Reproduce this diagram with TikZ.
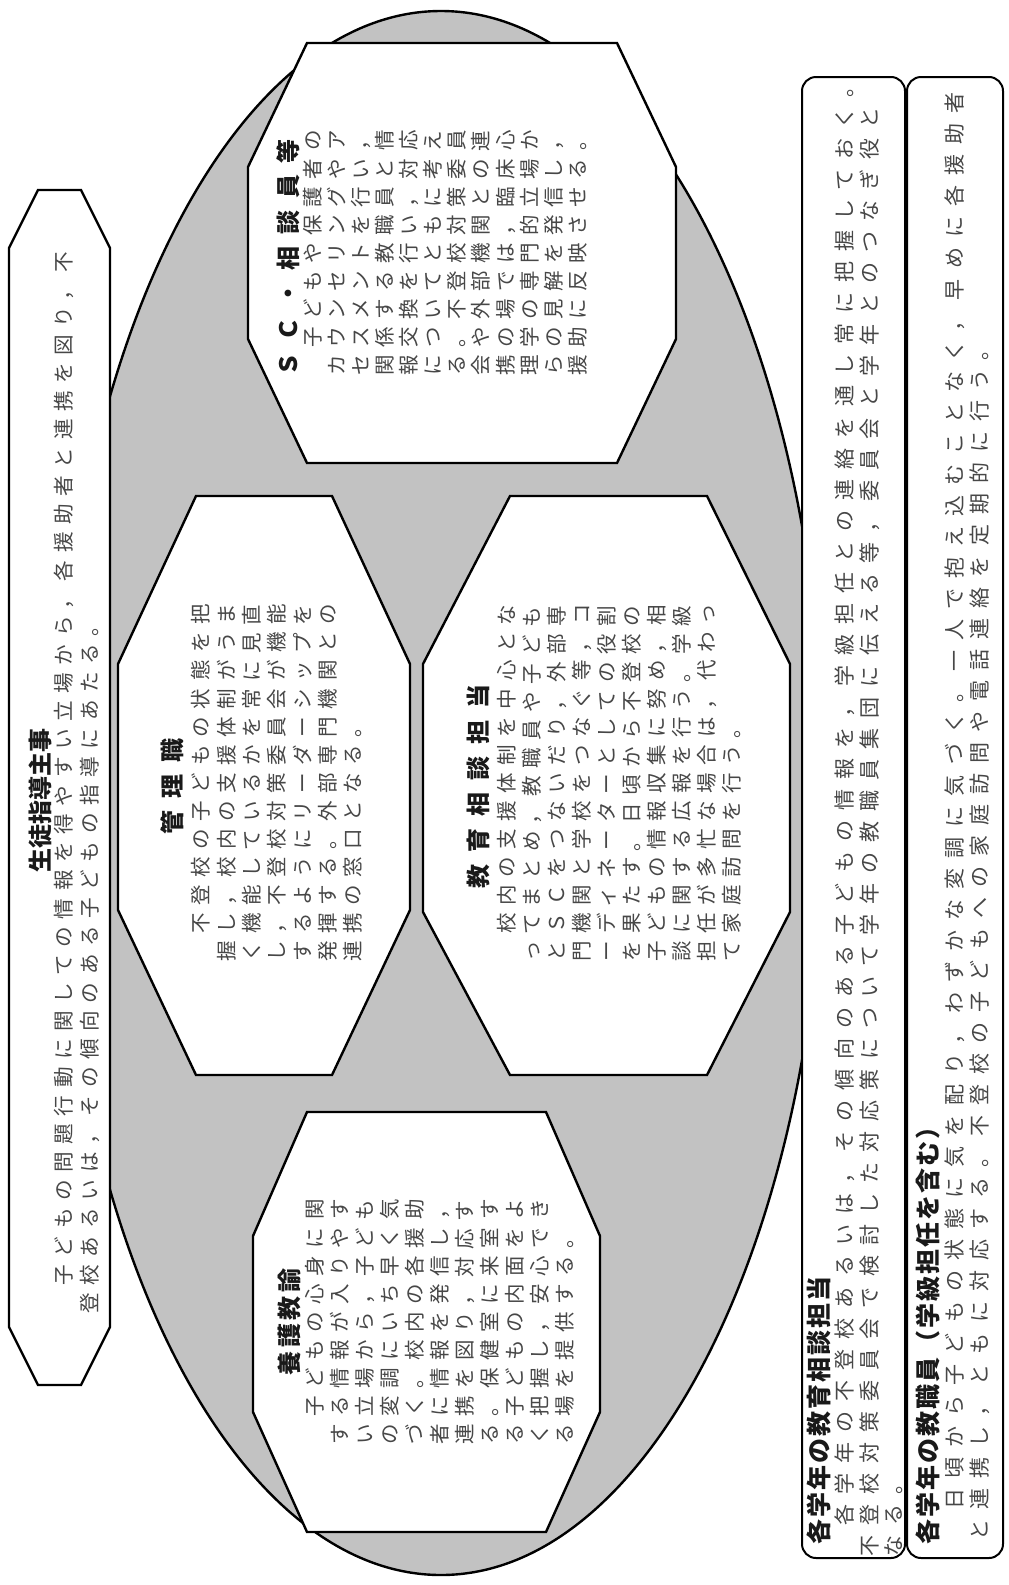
\documentclass[tikz,border=0pt]{standalone}
\usepackage{fontspec}
\newfontfamily\jpbody{Noto Sans CJK JP}[LetterSpace=37]
\newfontfamily\jpwide{Noto Sans CJK JP}[LetterSpace=48]
\newfontfamily\jptitle{Noto Sans CJK JP}
\definecolor{ellgray}{gray}{0.76}
\tikzset{
  frame/.style={draw=black, line width=2.4pt, fill=white, line join=miter},
  rbox/.style={draw=black, line width=2pt, fill=white, rounded corners=14pt},
  body/.style={rotate=90, align=left, inner sep=0pt, text=black!72},
  ttl/.style={rotate=90, inner sep=0pt, text=black!90},
  octttl/.style={ttl, font=\jptitle\bfseries\fontsize{24}{28}\selectfont\addfontfeature{LetterSpace=50}},
}
\begin{document}
\begin{tikzpicture}[x=1pt,y=-1pt]
\useasboundingbox (0,0) rectangle (1009,1585);
\fill[white] (0,0) rectangle (1009,1585);
% big ellipse
\draw[line width=2.4pt, fill=ellgray] (441,793) ellipse [x radius=384pt, y radius=782pt];
% left box
\draw[frame] (38,190) -- (81,190) -- (110,248) -- (110,1327) -- (81,1385) -- (38,1385) -- (9,1327) -- (9,248) -- cycle;
% octagons
\draw[frame] (307,43) -- (617,43) -- (676,167) -- (676,339) -- (617,463) -- (307,463) -- (248,339) -- (248,167) -- cycle;
\draw[frame] (196,496) -- (332,496) -- (410,664) -- (410,910) -- (332,1075) -- (196,1075) -- (118,910) -- (118,664) -- cycle;
\draw[frame] (510,496) -- (707,496) -- (790,664) -- (790,912) -- (707,1075) -- (510,1075) -- (423,912) -- (423,664) -- cycle;
\draw[frame] (307,1112) -- (546,1112) -- (600,1236) -- (600,1412) -- (546,1532) -- (307,1532) -- (253,1412) -- (253,1236) -- cycle;
% right boxes
\draw[rbox] (802,77) rectangle (905,1558);
\draw[rbox] (907,77) rectangle (1003,1558);

% texts: left box
\node[ttl, font=\jptitle\bfseries\fontsize{24}{28}\selectfont] (t1) at (40,800) {生徒指導主事};
\node[body, font=\jpbody\fontsize{20.6}{26}\selectfont] (b1) at (77,782.5)
 {　子どもの問題行動に関しての情報を得やすい立場から，各援助者と連携を図り，不\\
  登校あるいは，その傾向のある子どもの指導にあたる。};

% SC
\node[ttl, font=\jptitle\bfseries\fontsize{24}{28}\selectfont\addfontfeature{LetterSpace=48}] (t2) at (288,258) {ＳＣ・相談員等};
\node[body, font=\jpbody\fontsize{20.5}{24.1}\selectfont] (b2) at (445,253)
 {　子どもや保護者の\\
  カウンセリングやア\\
  セスメントを行い，\\
  関係する教職員と情\\
  報交換を行い，対応\\
  についてともに考え\\
  る。不登校対策委員\\
  会や外部機関との連\\
  携の場では，臨床心\\
  理学の専門的立場か\\
  らの見解を発信し，\\
  援助に反映させる。};

% kanrishoku
\node[octttl] (t3) at (172,786) {管理職};
\node[body, font=\jpbody\fontsize{20.5}{25.3}\selectfont] (b3) at (277,783)
 {　不登校の子どもの状態を把\\
  握し，校内の支援体制がうま\\
  く機能しているかを常に見直\\
  し，不登校対策委員会が機能\\
  するようにリーダーシップを\\
  発揮する。外部専門機関との\\
  連携の窓口となる。};

% kyouiku soudan
\node[octttl] (t4) at (478,786) {教育相談担当};
\node[body, font=\jpbody\fontsize{20.5}{25}\selectfont] (b4) at (619,783)
 {　校内の支援体制を中心とな\\
  ってまとめ，教職員や子ども\\
  とＳＣをつないだり，外部専\\
  門機関と学校をつなぐ等，コ\\
  ーディネーターとしての役割\\
  を果たす。日頃から不登校の\\
  子どもの情報収集に努め，相\\
  談に関する広報を行う。学級\\
  担任が多忙な場合は，代わっ\\
  て家庭訪問を行う。};

% yougo
\node[ttl, font=\jptitle\bfseries\fontsize{24}{28}\selectfont\addfontfeature{LetterSpace=15}] (t5) at (289,1322) {養護教諭};
\node[body, font=\jpbody\fontsize{20.5}{25}\selectfont] (b5) at (440,1322)
 {　子どもの心身に関\\
  する情報が入りやす\\
  い立場から，子ども\\
  の変調にいち早く気\\
  づく。校内の各援助\\
  者に情報を発信し，\\
  連携を図り，対応す\\
  る。保健室に来室す\\
  る子どもの内面をよ\\
  く把握し，安心でき\\
  る場を提供する。};

% right box A
\node[ttl, anchor=west, font=\jptitle\bfseries\fontsize{25}{28}\selectfont\addfontfeature{LetterSpace=8}] (t6) at (819,1545) {各学年の教育相談担当};
\node[body, font=\jpwide\fontsize{21}{24.5}\selectfont] (b6) at (869,816.5)
 {　各学年の不登校あるいは，その傾向のある子どもの情報を，学級担任との連絡を通し常に把握しておく。\\
  不登校対策委員会で検討した対応策について学年の教職員集団に伝える等，委員会と学年とのつなぎ役と\\
  なる。};

% right box B
\node[ttl, anchor=west, font=\jptitle\bfseries\fontsize{25}{28}\selectfont\addfontfeature{LetterSpace=8}] (t7) at (928,1545) {各学年の教職員（学級担任を含む）};
\node[body, font=\jpwide\fontsize{21}{25}\selectfont] (b7) at (967,816.5)
 {　日頃から子どもの状態に気を配り，わずかな変調に気づく。一人で抱え込むことなく，早めに各援助者\\
  と連携し，ともに対応する。不登校の子どもへの家庭訪問や電話連絡を定期的に行う。};
\end{tikzpicture}
\end{document}
